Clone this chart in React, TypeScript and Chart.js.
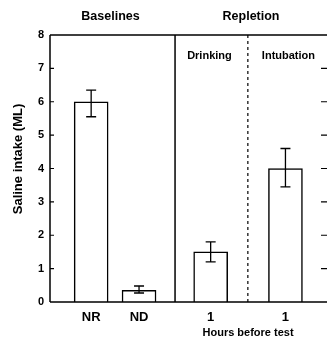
import React, { useEffect, useRef } from "react";
import { Chart, registerables } from "chart.js";

Chart.register(...registerables);

const categories = ["NR", "ND", "1", "1"];
const groupX = [1.04, 2.25, 4.06, 5.95];
const values = [6.0, 0.35, 1.5, 4.0];
const errLow = [5.55, 0.27, 1.2, 3.45];
const errHigh = [6.35, 0.48, 1.8, 4.6];
const yTicks = [0, 1, 2, 3, 4, 5, 6, 7, 8];
const groupTitles = ["Baselines", "Repletion"];
const subTitles = ["Drinking", "Intubation"];
const separators = [3.16, 5.0];

const FONT = "'Liberation Sans', Arial, sans-serif";

const drawPlugin = {
  id: "decor",
  afterDatasetsDraw(chart: any) {
    const { ctx, chartArea, scales } = chart;
    const x = scales.x;
    const y = scales.y;
    const { left, right, top, bottom } = chartArea;
    ctx.save();
    ctx.strokeStyle = "#000";
    ctx.fillStyle = "#000";
    ctx.lineWidth = 1.5;
    ctx.beginPath();
    ctx.moveTo(left, top);
    ctx.lineTo(left, bottom);
    ctx.moveTo(left, bottom);
    ctx.lineTo(right, bottom);
    ctx.moveTo(left, top);
    ctx.lineTo(right, top);
    ctx.stroke();
    ctx.lineWidth = 1.2;
    ctx.beginPath();
    for (const t of yTicks) {
      if (t === 0 || t === 8) continue;
      const py = y.getPixelForValue(t);
      ctx.moveTo(left, py);
      ctx.lineTo(left + 4, py);
      ctx.moveTo(right - 6, py);
      ctx.lineTo(right, py);
    }
    ctx.stroke();
    ctx.lineWidth = 1.5;
    const sx = x.getPixelForValue(separators[0]);
    ctx.beginPath();
    ctx.moveTo(sx, top);
    ctx.lineTo(sx, bottom);
    ctx.stroke();
    const dx = x.getPixelForValue(separators[1]);
    ctx.lineWidth = 1.2;
    ctx.setLineDash([3, 3]);
    ctx.beginPath();
    ctx.moveTo(dx, top);
    ctx.lineTo(dx, bottom);
    ctx.stroke();
    ctx.setLineDash([]);
    const meta = chart.getDatasetMeta(0);
    ctx.lineWidth = 1.3;
    meta.data.forEach((bar: any, i: number) => {
      const bx = bar.x;
      const yh = y.getPixelForValue(errHigh[i]);
      const yl = y.getPixelForValue(errLow[i]);
      const cap = 5;
      ctx.beginPath();
      ctx.moveTo(bx, yh);
      ctx.lineTo(bx, yl);
      ctx.moveTo(bx - cap, yh);
      ctx.lineTo(bx + cap, yh);
      ctx.moveTo(bx - cap, yl);
      ctx.lineTo(bx + cap, yl);
      ctx.stroke();
    });
    ctx.textAlign = "center";
    ctx.textBaseline = "middle";
    ctx.font = `bold 12.5px ${FONT}`;
    ctx.fillText(groupTitles[0], (left + sx) / 2 - 2, 17);
    ctx.fillText(groupTitles[1], (sx + right) / 2, 17);
    ctx.font = `bold 11px ${FONT}`;
    ctx.fillText(subTitles[0], (sx + dx) / 2 - 2, 56);
    ctx.fillText(subTitles[1], (dx + right) / 2 + 1, 56);
    ctx.font = `bold 11px ${FONT}`;
    const hx = (x.getPixelForValue(groupX[2]) + x.getPixelForValue(groupX[3])) / 2;
    ctx.fillText("Hours before test", hx, 333);
    ctx.save();
    ctx.translate(18, 159);
    ctx.rotate(-Math.PI / 2);
    ctx.font = `bold 13px ${FONT}`;
    ctx.fillText("Saline intake (ML)", 0, 0);
    ctx.restore();
    ctx.restore();
  },
};

export default function App() {
  const ref = useRef<HTMLCanvasElement>(null);
  useEffect(() => {
    document.body.style.margin = "0";
    document.body.style.overflow = "hidden";
    const chart = new Chart(ref.current!, {
      type: "bar",
      data: {
        datasets: [
          {
            data: values.map((v, i) => ({ x: groupX[i], y: v })),
            backgroundColor: "#fff",
            borderColor: "#000",
            borderWidth: 1.5,
            barThickness: 34,
          },
        ],
      },
      options: {
        animation: false,
        responsive: false,
        events: [],
        layout: { padding: { top: 35, right: 0, left: 0, bottom: 0 } },
        plugins: { legend: { display: false }, tooltip: { enabled: false } },
        scales: {
          x: {
            type: "linear",
            min: 0,
            max: 7,
            offset: false,
            afterBuildTicks: (s: any) => {
              s.ticks = groupX.map((v) => ({ value: v }));
            },
            afterFit: (s: any) => {
              s.height = 39;
            },
            ticks: {
              autoSkip: false,
              maxRotation: 0,
              padding: 8,
              color: "#000",
              font: { family: FONT, size: 13, weight: "bold" },
              callback: (_v: any, i: number) => categories[i],
            },
            grid: { display: false, drawTicks: false },
            border: { display: false },
          },
          y: {
            min: 0,
            max: 8,
            afterBuildTicks: (s: any) => {
              s.ticks = yTicks.map((v) => ({ value: v }));
            },
            afterFit: (s: any) => {
              s.width = 50;
            },
            ticks: {
              padding: 6,
              color: "#000",
              font: { family: FONT, size: 11, weight: "bold" },
            },
            grid: { display: false, drawTicks: false },
            border: { display: false },
          },
        },
      },
      plugins: [drawPlugin],
    });
    return () => chart.destroy();
  }, []);
  return (
    <div style={{ position: "absolute", left: 0, top: 0, width: 327, height: 341 }}>
      <canvas ref={ref} width={327} height={341} />
    </div>
  );
}
